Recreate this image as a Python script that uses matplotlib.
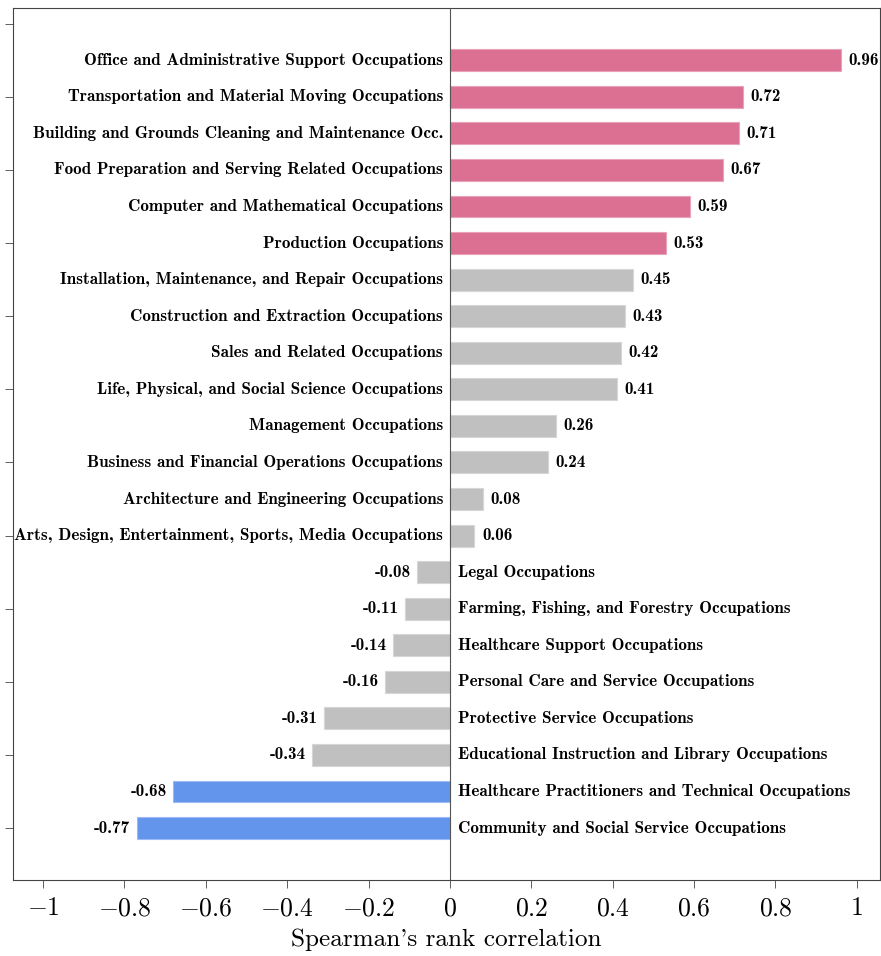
import numpy as np
import matplotlib as mpl
mpl.use('Agg')
import matplotlib.pyplot as plt
from matplotlib.colors import to_rgb

# top to bottom, as in the chart
occupations = [
    'Office and Administrative Support Occupations',
    'Transportation and Material Moving Occupations',
    'Building and Grounds Cleaning and Maintenance Occ.',
    'Food Preparation and Serving Related Occupations',
    'Computer and Mathematical Occupations',
    'Production Occupations',
    'Installation, Maintenance, and Repair Occupations',
    'Construction and Extraction Occupations',
    'Sales and Related Occupations',
    'Life, Physical, and Social Science Occupations',
    'Management Occupations',
    'Business and Financial Operations Occupations',
    'Architecture and Engineering Occupations',
    'Arts, Design, Entertainment, Sports, Media Occupations',
    'Legal Occupations',
    'Farming, Fishing, and Forestry Occupations',
    'Healthcare Support Occupations',
    'Personal Care and Service Occupations',
    'Protective Service Occupations',
    'Educational Instruction and Library Occupations',
    'Healthcare Practitioners and Technical Occupations',
    'Community and Social Service Occupations',
]
rho = [0.96, 0.72, 0.71, 0.67, 0.59, 0.53, 0.45, 0.43, 0.42, 0.41, 0.26,
       0.24, 0.08, 0.06, -0.08, -0.11, -0.14, -0.16, -0.31, -0.34, -0.68, -0.77]
group = ['high'] * 6 + ['mid'] * 14 + ['low'] * 2

colors = {'high': '#DB7093', 'mid': '#C0C0C0', 'low': '#6495ED'}

plt.rcParams['mathtext.fontset'] = 'cm'

def lighter(c, f=0.35):
    r, g, b = to_rgb(c)
    return (r + (1 - r) * f, g + (1 - g) * f, b + (1 - b) * f)

fig = plt.figure(figsize=(8.81, 9.56), dpi=100)
ax = fig.add_axes([13 / 881, 1 - 880 / 956, 867 / 881, 872 / 956])

n = len(occupations)
ypos = np.arange(n)[::-1]
fc = [colors[g] for g in group]
ax.barh(ypos, rho, height=0.6, color=fc, edgecolor=[lighter(c) for c in fc],
        linewidth=0.8, zorder=2)
ax.axvline(0, color='#555555', linewidth=0.8, zorder=3)

lab_font = dict(family='cmb10', fontsize=12.3)
for y, v, name in zip(ypos, rho, occupations):
    if v >= 0:
        ax.annotate('%.2f' % v, (v, y), xytext=(5.5, 0), textcoords='offset points',
                    ha='left', va='center', **lab_font)
        ax.annotate(name, (0, y), xytext=(-5, 0), textcoords='offset points',
                    ha='right', va='center', **lab_font)
    else:
        ax.annotate('%.2f' % v, (v, y), xytext=(-4.5, 0), textcoords='offset points',
                    ha='right', va='center', **lab_font)
        ax.annotate(name, (0, y), xytext=(5.5, 0), textcoords='offset points',
                    ha='left', va='center', **lab_font)

ax.set_xlim(-1.074, 1.057)
ax.set_ylim(-1.42, 22.43)

xt = [-1, -0.8, -0.6, -0.4, -0.2, 0, 0.2, 0.4, 0.6, 0.8, 1]
ax.set_xticks(xt)
ax.set_xticklabels(['$%g$' % t for t in xt], fontsize=18.5)
ax.set_yticks(np.arange(0, 23, 2))
ax.set_yticklabels([])
ax.tick_params(axis='x', direction='out', length=6, width=0.6, color='#444444', pad=5)
ax.tick_params(axis='y', direction='out', length=6, width=0.6, color='#444444')
for s in ax.spines.values():
    s.set_color('#444444')
    s.set_linewidth(0.8)

ax.set_xlabel("Spearman's rank correlation", family=['cmr10', 'DejaVu Serif'],
              fontsize=18.2, labelpad=5)

fig.savefig('out.png', dpi=100)
